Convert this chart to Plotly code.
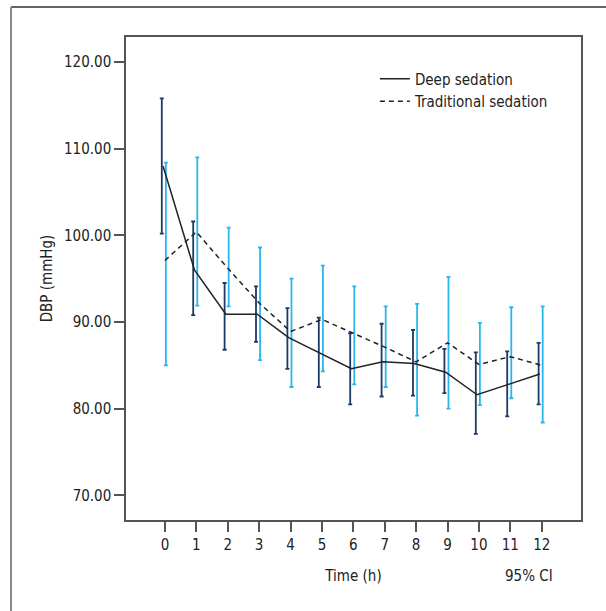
import plotly.graph_objects as go

time_h = [0, 1, 2, 3, 4, 5, 6, 7, 8, 9, 10, 11, 12]
tick_labels = [str(t) for t in time_h]

deep_mean = [108.0, 96.0, 90.9, 90.9, 88.2, 86.4, 84.6, 85.4, 85.2, 84.2, 81.6, 82.8, 84.0]
deep_upper = [115.8, 101.6, 94.5, 94.1, 91.6, 90.5, 88.7, 89.8, 89.1, 86.9, 86.5, 86.6, 87.6]
deep_lower = [100.2, 90.8, 86.8, 87.7, 84.6, 82.5, 80.5, 81.4, 81.5, 81.8, 77.1, 79.1, 80.5]

trad_mean = [97.1, 100.4, 96.2, 92.2, 88.9, 90.3, 88.7, 87.1, 85.4, 87.6, 85.1, 86.0, 85.0]
trad_upper = [108.4, 109.0, 100.9, 98.6, 95.0, 96.5, 94.1, 91.8, 92.1, 95.2, 89.9, 91.7, 91.8]
trad_lower = [85.0, 91.9, 91.8, 85.6, 82.5, 84.3, 82.8, 82.5, 79.2, 80.0, 80.4, 81.2, 78.4]

y_ticks = [70, 80, 90, 100, 110, 120]

FONT = "DejaVu Sans Condensed, Liberation Sans, sans-serif"
FS = 15
DARK = "#1b3a66"
LIGHT = "#2bb5ee"

fig = go.Figure()

# error bars (95% CI)
fig.add_trace(go.Scatter(
    x=[t - 0.1 for t in time_h], y=deep_mean, mode="markers",
    marker=dict(size=0.1, color="rgba(0,0,0,0)"), showlegend=False, hoverinfo="skip",
    error_y=dict(type="data", symmetric=False,
                 array=[u - m for u, m in zip(deep_upper, deep_mean)],
                 arrayminus=[m - l for m, l in zip(deep_mean, deep_lower)],
                 color=DARK, thickness=1.8, width=2)))
fig.add_trace(go.Scatter(
    x=[t + 0.03 for t in time_h], y=trad_mean, mode="markers",
    marker=dict(size=0.1, color="rgba(0,0,0,0)"), showlegend=False, hoverinfo="skip",
    error_y=dict(type="data", symmetric=False,
                 array=[u - m for u, m in zip(trad_upper, trad_mean)],
                 arrayminus=[m - l for m, l in zip(trad_mean, trad_lower)],
                 color=LIGHT, thickness=1.8, width=2)))

# mean lines
fig.add_trace(go.Scatter(
    x=[t - 0.06 for t in time_h], y=deep_mean, mode="lines", name="Deep sedation",
    line=dict(color="#222222", width=1.5)))
fig.add_trace(go.Scatter(
    x=time_h, y=trad_mean, mode="lines", name="Traditional sedation",
    line=dict(color="#222222", width=1.5, dash="5px,4px")))

axis_common = dict(showline=True, linecolor="#555555", linewidth=1.5, mirror=True,
                   ticks="outside", ticklen=10, tickwidth=1.5, tickcolor="#555555",
                   showgrid=False, zeroline=False, automargin=False,
                   tickfont=dict(family=FONT, size=FS, color="#222222"))

fig.update_layout(
    width=606, height=611,
    margin=dict(l=126, r=25, t=37, b=91),
    paper_bgcolor="white", plot_bgcolor="white",
    font=dict(family=FONT, size=FS, color="#222222"),
    xaxis=dict(range=[-1.24, 13.25], tickmode="array", tickvals=time_h, ticktext=tick_labels,
               title=dict(text="Time (h)", font=dict(family=FONT, size=FS), standoff=18),
               **axis_common),
    yaxis=dict(range=[67.15, 122.89], tickmode="array", tickvals=y_ticks,
               ticktext=[f"{v:.2f}" for v in y_ticks],
               title=dict(text="DBP (mmHg)", font=dict(family=FONT, size=FS), standoff=8),
               **axis_common),
    legend=dict(x=0.547, y=0.947, xanchor="left", yanchor="top",
                bgcolor="rgba(0,0,0,0)", font=dict(family=FONT, size=FS),
                itemwidth=30, tracegroupgap=0),
    showlegend=True,
)

fig.add_annotation(text="95% CI", x=12 - 0.4, xref="x", y=-0.115, yref="paper",
                   showarrow=False, yanchor="middle", xanchor="center",
                   font=dict(family=FONT, size=FS, color="#222222"))

# outer frame lines (top and left)
fig.add_shape(type="line", xref="paper", yref="paper", x0=-0.2527, x1=1.09, y0=1.0621, y1=1.0621,
              line=dict(color="#333333", width=1.5))
fig.add_shape(type="line", xref="paper", yref="paper", x0=-0.2527, x1=-0.2527, y0=1.0621, y1=-0.22,
              line=dict(color="#888888", width=2))

fig.write_html("out.html", config={"displayModeBar": False},
               post_script="document.body.style.margin='0';")
